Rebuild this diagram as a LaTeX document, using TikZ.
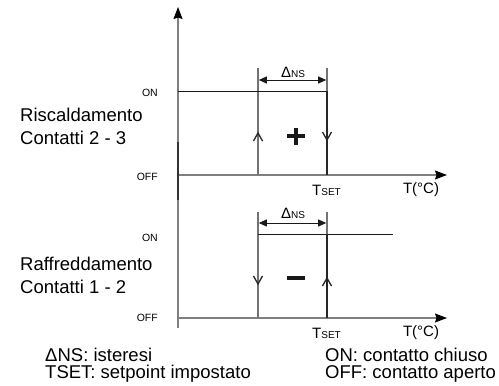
\documentclass[tikz,border=0pt]{standalone}
\usepackage{fontspec}
\setmainfont{Liberation Sans}
\usetikzlibrary{arrows.meta}
\newcommand{\bigT}[1]{{\fontsize{15}{15}\selectfont #1}}
\newcommand{\smallsub}[1]{{\fontsize{10}{10}\selectfont #1}}
\begin{document}
\begin{tikzpicture}[x=1pt,y=-1pt,
  axis/.style={draw=black!50, line width=1.3pt},
  axisarrow/.style={axis, -{Stealth[length=12pt,width=9pt,inset=1.5pt,color=black]}},
  level/.style={draw=black!90, line width=0.9pt},
  guide/.style={draw=black!55, line width=1.2pt},
  dim/.style={draw=black!90, line width=0.9pt, shorten <=0.8pt, shorten >=0.8pt,
    {Triangle[length=8pt,width=7pt]}-{Triangle[length=8pt,width=7pt]}},
  chev/.style={draw=black!85, line width=1.3pt},
  sign/.style={draw=black!90, line width=3.2pt},
  big/.style={font=\fontsize{18.5}{23}\selectfont, inner sep=0pt},
  small/.style={font=\fontsize{10.5}{12}\selectfont, inner sep=0pt},
  lab/.style={inner sep=0pt},
]
\useasboundingbox (0,0) rectangle (499,386);

% axes
\coordinate (vbot) at (178,328);
\coordinate (vtop) at (178,7);
\coordinate (o1) at (178,175);
\coordinate (x1) at (447,175);
\coordinate (o2) at (178,318);
\coordinate (x2) at (447,318);
\draw[axisarrow] (vbot) -- (vtop);
\draw[axisarrow] (o1) -- (x1);
\draw[axisarrow] (o2) -- (x2);
\draw[draw=black!80, line width=1.7pt] (178,142) -- (178,200);

% upper panel (heating)
\coordinate (on1a) at (178,91);
\coordinate (on1b) at (327,91);
\coordinate (g1lt) at (258,68);
\coordinate (g1lb) at (258,175);
\coordinate (g1rt) at (327,68);
\coordinate (g1rb) at (327,175);
\draw[guide] (g1lt) -- (g1lb);
\draw[guide] (g1rt) -- (on1b);
\draw[level] (on1a) -- (on1b);
\draw[draw=black!85, line width=1.2pt] (on1b) -- (g1rb);
\coordinate (d1a) at (258,80);
\coordinate (d1b) at (327,80);
\draw[dim] (d1a) -- (d1b);
\draw[chev] (253.5,141) -- (258,133) -- (262.5,141);
\draw[chev] (322.5,132) -- (327,140) -- (331.5,132);
\draw[sign] (287,136) -- (305,136);
\draw[sign] (296,127.5) -- (296,144.5);

% lower panel (cooling)
\coordinate (on2a) at (258,234);
\coordinate (on2b) at (393,234);
\coordinate (g2lt) at (258,212);
\coordinate (g2lb) at (258,318);
\coordinate (g2rt) at (327,212);
\coordinate (g2rm) at (327,234);
\coordinate (g2rb) at (327,318);
\draw[guide] (g2lt) -- (g2lb);
\draw[guide] (g2rt) -- (g2rm);
\draw[level] (on2a) -- (on2b);
\draw[draw=black!85, line width=1.4pt] (g2rm) -- (g2rb);
\coordinate (d2a) at (258,223);
\coordinate (d2b) at (327,223);
\draw[dim] (d2a) -- (d2b);
\draw[chev] (253.5,276) -- (258,284) -- (262.5,276);
\draw[chev] (322.5,286) -- (327,278) -- (331.5,286);
\draw[sign] (287,278) -- (305,278);

% labels
\node[small, anchor=east] (on1) at (158,93) {ON};
\node[small, anchor=east] (off1) at (158,177) {OFF};
\node[small, anchor=east] (on2) at (158,238) {ON};
\node[small, anchor=east] (off2) at (158,318) {OFF};
\node[big, anchor=west, align=left] (heat) at (20,126) {Riscaldamento\\Contatti 2 - 3};
\node[big, anchor=west, align=left] (cool) at (20,275) {Raffreddamento\\Contatti 1 - 2};

\node[lab] (ts1) at (326.5,190) {\bigT{T}\smallsub{SET}};
\node[lab] (tc1) at (421,190) {\bigT{T(°C)}};
\node[lab] (ts2) at (326.5,333) {\bigT{T}\smallsub{SET}};
\node[lab] (tc2) at (421,333) {\bigT{T(°C)}};
\node[lab] (dn1) at (293,72) {\bigT{Δ}\smallsub{NS}};
\node[lab] (dn2) at (293,213) {\bigT{Δ}\smallsub{NS}};

\node[big, anchor=west] (leg1) at (45,355) {ΔNS: isteresi};
\node[big, anchor=west] (leg2) at (45,374) {TSET: setpoint impostato};
\node[big, anchor=west] (leg3) at (325,355) {ON: contatto chiuso};
\node[big, anchor=west] (leg4) at (325,374) {OFF: contatto aperto};
\end{tikzpicture}
\end{document}
